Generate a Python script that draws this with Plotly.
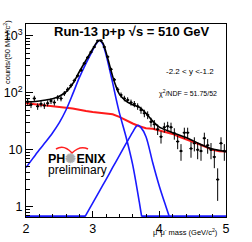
import math
import plotly.graph_objects as go

# ---------------- data ----------------
bin_centers = [2.025, 2.075, 2.125, 2.175, 2.225, 2.275, 2.325, 2.375, 2.425, 2.475,
               2.525, 2.575, 2.625, 2.675, 2.725, 2.775, 2.825, 2.875, 2.925, 2.975,
               3.025, 3.075, 3.125, 3.175, 3.225, 3.275, 3.325, 3.375, 3.425, 3.475,
               3.525, 3.575, 3.625, 3.675, 3.725, 3.775, 3.825, 3.875, 3.925, 3.975,
               4.025, 4.075, 4.125, 4.175, 4.225, 4.275, 4.325, 4.375, 4.425, 4.475,
               4.525, 4.575, 4.625, 4.675, 4.725, 4.775, 4.825, 4.875, 4.925, 4.975]
counts = [70, 62, 80, 58, 64, 60, 66, 72, 68, 82,
          80, 98, 115, 135, 165, 200, 250, 330, 420, 520,
          640, 820, 830, 640, 430, 260, 170, 115, 92, 80,
          75, 68, 64, 58, 50, 44, 41, 31, 28, 23,
          17, 25, 26, 25, 19.5, 14, 9.5, 20, 20, 10.5,
          13, 10, 9.5, 16, 12, 10, 7.5, 3.0, 13, 9.5]

fit_x = [2.0, 2.1, 2.2, 2.3, 2.4, 2.5, 2.6, 2.7, 2.8, 2.9, 3.0, 3.05, 3.1, 3.15, 3.2,
         3.25, 3.3, 3.35, 3.4, 3.5, 3.6, 3.7, 3.8, 3.9, 4.0, 4.2, 4.4, 4.6, 4.8, 5.0]
fit_y = [70, 70, 72, 75, 79, 87, 104, 145, 235, 375, 590, 740, 840, 760, 520,
         320, 195, 130, 95, 72, 62, 56, 44, 32, 25, 20, 16.5, 12.8, 10.3, 9.3]

jpsi_x = [2.0, 2.1, 2.2, 2.3, 2.4, 2.5, 2.6, 2.7, 2.8, 2.9, 3.0, 3.05, 3.1, 3.15, 3.2,
          3.25, 3.3, 3.35, 3.4, 3.5, 3.6, 3.7, 3.735]
jpsi_y = [4.9, 7, 10, 14, 20, 30, 50, 95, 185, 330, 560, 720, 830, 730, 470,
          270, 150, 80, 45, 17, 5.5, 1.2, 0.67]

psip_x = [2.885, 3.0, 3.1, 3.2, 3.3, 3.4, 3.5, 3.6, 3.65, 3.68, 3.72, 3.8, 3.9, 4.0, 4.1, 4.15]
psip_y = [0.67, 1.16, 1.87, 3.0, 4.9, 7.9, 12.8, 20.5, 25.5, 27, 25, 17, 6, 2.3, 1.0, 0.67]

bkg_x = [2.0, 2.1, 2.2, 2.3, 2.4, 2.5, 2.6, 2.7, 2.8, 2.9, 3.0, 3.1, 3.2, 3.3, 3.4, 3.5,
         3.6, 3.7, 3.8, 3.9, 4.0, 4.1, 4.2, 4.3, 4.4, 4.5, 4.6, 4.7, 4.8, 4.9, 5.0]
bkg_y = [66, 64, 63, 62, 60, 58, 55, 53, 50, 48, 46, 45, 44, 42, 38, 33,
         29, 26, 24, 23.5, 22, 20.5, 19, 17, 15.5, 14, 12.5, 11.2, 10, 9.4, 9.3]

y_tickvals = [1, 10, 100, 1000]
y_ticktext = ["1", "10", "10<sup>2</sup>", "10<sup>3</sup>"]
x_tickvals = [2, 3, 4, 5]

title_text = "<b>Run-13 p+p \u221as = 510 GeV</b>"
rap_text = "-2.2 < y <-1.2"
chi_text = "\u03c7<sup>2</sup>/NDF = 51.75/52"
ytitle = "counts/(50 MeV/c<sup>2</sup>)"
xtitle = "\u03bc<sup>+</sup>\u03bc<sup>-</sup> mass (GeV/c<sup>2</sup>)"

# ---------------- layout constants ----------------
W, H = 252, 242
L, R, T, B = 26, 26, 24, 25
FONT = "Liberation Sans, Arial, Helvetica, sans-serif"
ylog_min, ylog_max = -0.18, 3.21
floor_val = 10 ** (ylog_min + 0.012)


def px(xp, yp):
    return (xp - L) / (W - L - R), (H - B - yp) / (H - T - B)


fig = go.Figure()

# background (red)
fig.add_trace(go.Scatter(x=bkg_x, y=bkg_y, mode="lines",
                         line=dict(color="#ff1a1a", width=2), hoverinfo="skip"))
# J/psi (blue) + floor
fig.add_trace(go.Scatter(x=jpsi_x, y=jpsi_y, mode="lines",
                         line=dict(color="#1a1aff", width=1.6, shape="spline", smoothing=0.8),
                         hoverinfo="skip"))
fig.add_trace(go.Scatter(x=[jpsi_x[-1], 5.0], y=[floor_val, floor_val], mode="lines",
                         line=dict(color="#1a1aff", width=2), hoverinfo="skip"))
# psi' (blue)
fig.add_trace(go.Scatter(x=psip_x, y=psip_y, mode="lines",
                         line=dict(color="#1a1aff", width=1.6, shape="spline", smoothing=0.8),
                         hoverinfo="skip"))
fig.add_trace(go.Scatter(x=[2.0, psip_x[0]], y=[floor_val, floor_val], mode="lines",
                         line=dict(color="#1a1aff", width=2), hoverinfo="skip"))
# total fit (black)
fig.add_trace(go.Scatter(x=fit_x, y=fit_y, mode="lines",
                         line=dict(color="black", width=1.6, shape="spline", smoothing=0.8),
                         hoverinfo="skip"))
# data points
errs = [math.sqrt(c) for c in counts]
fig.add_trace(go.Scatter(x=bin_centers, y=counts, mode="markers",
                         marker=dict(color="black", size=2.5),
                         error_y=dict(type="data", array=errs, visible=True,
                                      color="black", thickness=1, width=0),
                         error_x=dict(type="constant", value=0.025, visible=True,
                                      color="black", thickness=1, width=0),
                         hoverinfo="skip"))

minor_y = [m * 10 ** d for d in range(-1, 4) for m in range(2, 10)
           if ylog_min < math.log10(m * 10 ** d) < ylog_max]

fig.update_layout(
    width=W, height=H, margin=dict(l=L, r=R, t=T, b=B, autoexpand=False),
    paper_bgcolor="white", plot_bgcolor="white", showlegend=False,
    font=dict(family=FONT, color="black"),
    xaxis=dict(range=[2, 5], showgrid=False, zeroline=False, showline=True,
               automargin=False,
               linecolor="black", linewidth=1, mirror=True,
               ticks="inside", ticklen=6, tickcolor="black",
               tickvals=x_tickvals, tickfont=dict(size=12.5, family=FONT),
               minor=dict(ticks="inside", ticklen=3, dtick=0.2, tick0=2, tickcolor="black")),
    yaxis=dict(type="log", range=[ylog_min, ylog_max], showgrid=False, zeroline=False,
               automargin=False,
               showline=True, linecolor="black", linewidth=1, mirror=True,
               ticks="inside", ticklen=7, tickcolor="black",
               tickvals=y_tickvals, ticktext=y_ticktext,
               tickfont=dict(size=12.5, family=FONT),
               minor=dict(ticks="inside", ticklen=3.5, tickvals=minor_y, tickcolor="black")),
)

ann = []
x0, y0 = px(132, 31)
ann.append(dict(text=title_text, x=x0, y=y0, xref="paper", yref="paper",
                showarrow=False, xanchor="center", yanchor="middle",
                font=dict(size=13, family=FONT)))
x0, y0 = px(216, 71)
ann.append(dict(text=rap_text, x=x0, y=y0, xref="paper", yref="paper",
                showarrow=False, xanchor="right", yanchor="middle",
                font=dict(size=8, family=FONT)))
x0, y0 = px(219, 93)
ann.append(dict(text=chi_text, x=x0, y=y0, xref="paper", yref="paper",
                showarrow=False, xanchor="right", yanchor="middle",
                font=dict(size=7, family=FONT)))
x0, y0 = px(7, 18)
ann.append(dict(text=ytitle, x=x0, y=y0, xref="paper", yref="paper",
                showarrow=False, xanchor="center", yanchor="top", textangle=-90,
                font=dict(size=7.5, family=FONT)))
x0, y0 = px(220, 232)
ann.append(dict(text=xtitle, x=x0, y=y0, xref="paper", yref="paper",
                showarrow=False, xanchor="right", yanchor="middle",
                font=dict(size=7.5, family=FONT)))
x0, y0 = px(77, 159)
ann.append(dict(text="<b>PH<span style='color:#aaaaaa'>\u273a</span>ENIX</b>", x=x0, y=y0,
                xref="paper", yref="paper", showarrow=False,
                xanchor="center", yanchor="middle", font=dict(size=12.5, family=FONT)))
x0, y0 = px(77.5, 170)
ann.append(dict(text="preliminary", x=x0, y=y0, xref="paper", yref="paper",
                showarrow=False, xanchor="center", yanchor="middle",
                font=dict(size=12, family=FONT)))
fig.update_layout(annotations=ann)

# red swoosh of the logo
pts = [px(56, 149), px(64, 144), px(72, 153), px(80, 145), px(88, 149)]
path = "M {:.4f},{:.4f} Q {:.4f},{:.4f} {:.4f},{:.4f} Q {:.4f},{:.4f} {:.4f},{:.4f}".format(
    *pts[0], *pts[1], *pts[2], *pts[3], *pts[4])
fig.add_shape(type="path", path=path, xref="paper", yref="paper",
              line=dict(color="#ff2020", width=1.5))

fig.write_html("out.html", config={"displayModeBar": False},
               post_script="document.body.style.margin='0';document.body.style.padding='0';")
